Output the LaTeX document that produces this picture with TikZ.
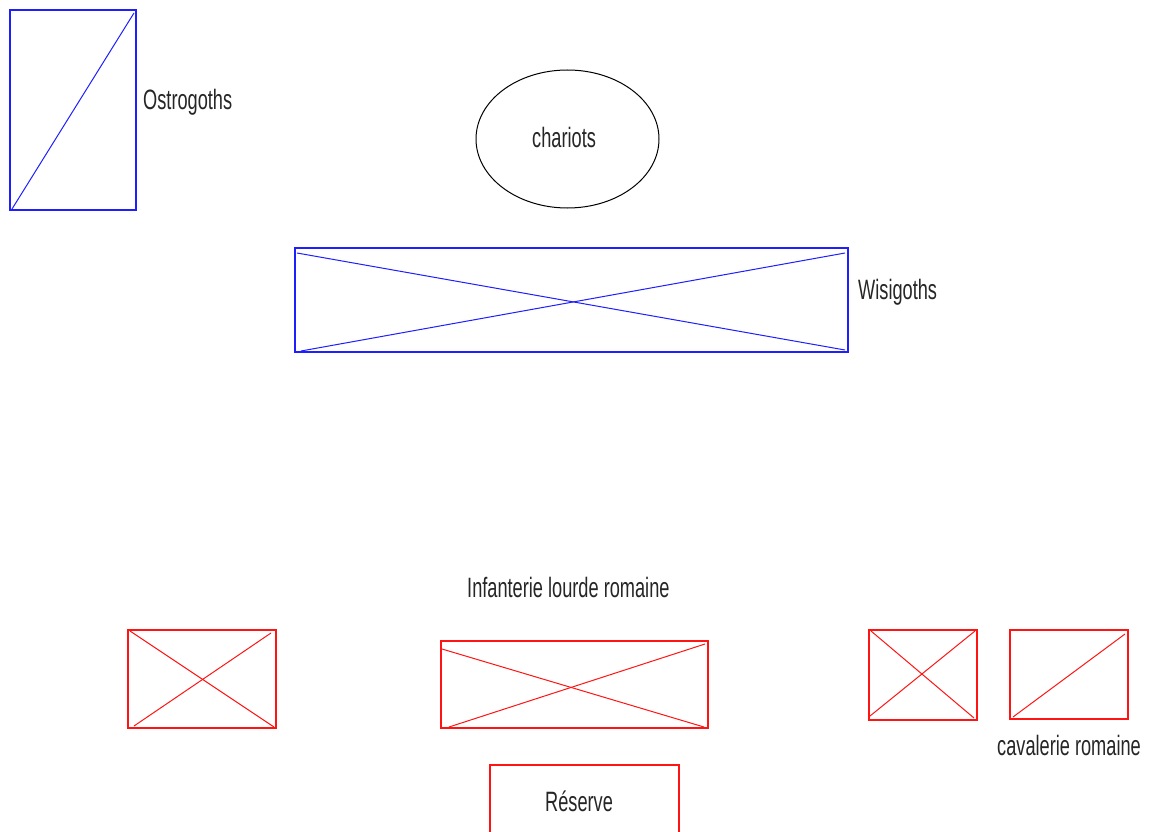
\documentclass[tikz,border=0pt]{standalone}
\usepackage{fontspec}
\setmainfont[FakeStretch=0.65]{Liberation Sans}
\usetikzlibrary{shapes.geometric}
\definecolor{ublue}{RGB}{30,30,255}
\definecolor{ured}{RGB}{255,20,20}
\tikzset{
  unit/.style={draw, rectangle, inner sep=0pt, outer sep=0pt, line width=1.3pt},
  bluebox/.style={unit, draw=ublue},
  redbox/.style={unit, draw=ured},
  bdiag/.style={draw=ublue, line width=1pt},
  rdiag/.style={draw=ured, line width=1pt},
  lbl/.style={inner sep=0pt, anchor=base west, font=\fontsize{28}{30}\selectfont, text=black!85}
}
\begin{document}
\begin{tikzpicture}[x=1pt,y=-1pt]
\useasboundingbox (0,0) rectangle (1149,832);
\clip (0,0) rectangle (1149,832);
\fill[white] (0,0) rectangle (1149,832);
% Ostrogoths
\node[bluebox, minimum width=126pt, minimum height=200pt] (ostro) at (73,110) {};
\draw[bdiag] ([shift={(2pt,1pt)}]ostro.south west) -- ([shift={(-2pt,-3pt)}]ostro.north east);
\node[lbl] (ostrol) at (143,110) {Ostrogoths};
% chariots
\node[draw, ellipse, line width=1pt, minimum width=183pt, minimum height=138pt, inner sep=0pt] (char) at (567.5,139) {};
\node[lbl] (charl) at (532,148) {chariots};
% Wisigoths
\node[bluebox, minimum width=553pt, minimum height=104pt] (wisi) at (571.5,300) {};
\draw[bdiag] ([shift={(2pt,-5pt)}]wisi.north west) -- ([shift={(-3pt,2pt)}]wisi.south east);
\draw[bdiag] ([shift={(6pt,1pt)}]wisi.south west) -- ([shift={(-3pt,-5pt)}]wisi.north east);
\node[lbl] (wisil) at (858,299) {Wisigoths};
% Infanterie
\node[lbl] (infl) at (467,597) {Infanterie lourde romaine};
\node[redbox, minimum width=148pt, minimum height=98pt] (r1) at (202,679) {};
\draw[rdiag] ([shift={(2pt,-1pt)}]r1.north west) -- ([shift={(-2pt,1pt)}]r1.south east);
\draw[rdiag] ([shift={(6pt,2pt)}]r1.south west) -- ([shift={(-5pt,-3pt)}]r1.north east);
\node[redbox, minimum width=267pt, minimum height=87pt] (r2) at (574.5,684.5) {};
\draw[rdiag] ([shift={(1pt,-8pt)}]r2.north west) -- ([shift={(-4pt,1pt)}]r2.south east);
\draw[rdiag] ([shift={(8pt,1pt)}]r2.south west) -- ([shift={(-3pt,-3pt)}]r2.north east);
% cavalerie
\node[redbox, minimum width=108pt, minimum height=90pt] (r3) at (923,675) {};
\draw[rdiag] ([shift={(2pt,-1pt)}]r3.north west) -- ([shift={(-3pt,2pt)}]r3.south east);
\draw[rdiag] ([shift={(1pt,4pt)}]r3.south west) -- ([shift={(-2pt,-1pt)}]r3.north east);
\node[redbox, minimum width=118pt, minimum height=89pt] (r4) at (1069,674.5) {};
\draw[rdiag] ([shift={(3pt,2pt)}]r4.south west) -- ([shift={(-3pt,-4pt)}]r4.north east);
\node[lbl] (caval) at (997,755) {cavalerie romaine};
% Reserve
\node[redbox, minimum width=189pt, minimum height=80pt] (res) at (584.5,805) {};
\node[lbl] (resl) at (545,811) {Réserve};
\end{tikzpicture}
\end{document}
